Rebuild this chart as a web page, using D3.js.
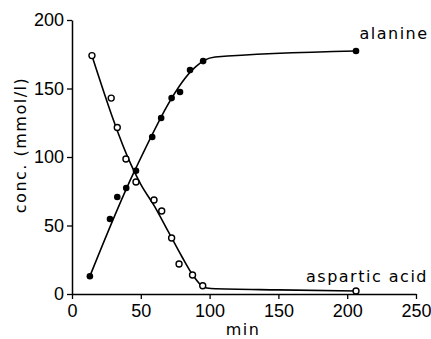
<!doctype html>
<html lang="en">
<head>
<meta charset="utf-8">
<title>Alanine / aspartic acid</title>
<script src="https://cdn.jsdelivr.net/npm/d3@7"></script>
<style>
  body { margin: 0; background: #fff; }
  svg { font-family: "Liberation Sans", Arial, sans-serif; }
  .lbl { font-family: "DejaVu Sans", sans-serif; font-size: 16px; letter-spacing: 1.5px; }
</style>
</head>
<body>
<svg width="431" height="339"></svg>
<script>
// measured points (min, mmol/l)
var alaT = [13, 27.6, 32.9, 39.4, 46.5, 58.3, 64.8, 72.4, 78.5, 85.8, 95.3, 206.4];
var alaC = [13, 54.7, 70.8, 77.4, 90, 114.6, 128.5, 143, 147.4, 163.5, 170, 177.4];
var aspT = [14.5, 28.5, 32.9, 39.2, 46.5, 59.6, 65.2, 72.4, 77.8, 87.6, 95, 206.4];
var aspC = [174, 143, 121.5, 98.5, 81.8, 68.6, 60.6, 40.9, 21.9, 13.9, 6, 2.2];

// hand drawn fit curves
var alaFitT = [13, 46, 90, 96, 104, 206.4];
var alaFitC = [13, 91, 166, 170.5, 173, 177.4];
var aspFitT = [14.5, 44, 50, 60, 70, 80, 88, 95, 101, 150, 206.4];
var aspFitC = [174, 92, 80, 64, 45.5, 27, 13.5, 5.5, 4, 3, 2.2];

var xTicks = [0, 50, 100, 150, 200, 250];
var yTicks = [0, 50, 100, 150, 200];

var svg = d3.select("svg");
var x = d3.scaleLinear().domain([0, 250]).range([72, 416]);
var y = d3.scaleLinear().domain([0, 200]).range([294, 20]);

svg.append("g")
  .attr("transform", "translate(0,294)")
  .call(d3.axisBottom(x).tickValues(xTicks).tickSize(5).tickSizeOuter(0).tickPadding(5))
  .call(g => g.select(".domain").attr("stroke-width", 1.5))
  .call(g => g.selectAll("line").attr("stroke-width", 1.3))
  .call(g => g.selectAll("text").attr("font-size", 18).attr("font-family", null));

svg.append("g")
  .attr("transform", "translate(72,0)")
  .call(d3.axisLeft(y).tickValues(yTicks).tickSize(5).tickSizeOuter(0).tickPadding(3))
  .call(g => g.select(".domain").attr("stroke-width", 1.5))
  .call(g => g.selectAll("line").attr("stroke-width", 1.3))
  .call(g => g.selectAll("text").attr("font-size", 18).attr("font-family", null));

var line = d3.line().x(d => x(d[0])).y(d => y(d[1])).curve(d3.curveMonotoneX);

svg.append("path")
  .datum(alaFitT.map((t, i) => [t, alaFitC[i]]))
  .attr("d", line).attr("fill", "none").attr("stroke", "#000").attr("stroke-width", 1.6);
svg.append("path")
  .datum(aspFitT.map((t, i) => [t, aspFitC[i]]))
  .attr("d", line).attr("fill", "none").attr("stroke", "#000").attr("stroke-width", 1.6);

svg.selectAll("circle.ala")
  .data(alaT.map((t, i) => [t, alaC[i]]))
  .join("circle").attr("class", "ala")
  .attr("cx", d => x(d[0])).attr("cy", d => y(d[1])).attr("r", 3.3)
  .attr("fill", "#000");

svg.selectAll("circle.asp")
  .data(aspT.map((t, i) => [t, aspC[i]]))
  .join("circle").attr("class", "asp")
  .attr("cx", d => x(d[0])).attr("cy", d => y(d[1])).attr("r", 3)
  .attr("fill", "#fff").attr("stroke", "#000").attr("stroke-width", 1.4);

svg.append("text").attr("class", "lbl").attr("x", 394).attr("y", 39).attr("text-anchor", "middle")
  .text("alanine");
svg.append("text").attr("class", "lbl").attr("x", 367).attr("y", 282).attr("text-anchor", "middle")
  .text("aspartic acid");
svg.append("text").attr("class", "lbl").attr("x", 243).attr("y", 335).attr("text-anchor", "middle")
  .text("min");
svg.append("text").attr("class", "lbl").attr("transform", "translate(26,145) rotate(-90)")
  .attr("text-anchor", "middle").text("conc. (mmol/l)");
</script>
</body>
</html>
